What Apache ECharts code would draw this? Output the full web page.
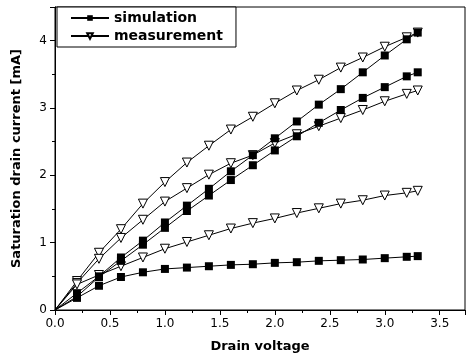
<!DOCTYPE html>
<html>
<head>
<meta charset="utf-8">
<script src="https://cdn.jsdelivr.net/npm/echarts@6/dist/echarts.min.js"></script>
<style>
  html, body { margin: 0; padding: 0; background: #fff; }
  #chart { width: 472px; height: 361px; }
</style>
</head>
<body>
<div id="chart"></div>
<script>
// drain voltage points
const voltage = [0, 0.2, 0.4, 0.6, 0.8, 1.0, 1.2, 1.4, 1.6, 1.8, 2.0, 2.2, 2.4, 2.6, 2.8, 3.0, 3.2, 3.3];

// simulation curves
const simHigh = [0, 0.25, 0.5, 0.78, 1.03, 1.3, 1.55, 1.8, 2.06, 2.3, 2.55, 2.8, 3.05, 3.28, 3.53, 3.78, 4.02, 4.12];
const simMid  = [0, 0.2, 0.49, 0.73, 0.97, 1.22, 1.47, 1.7, 1.93, 2.15, 2.37, 2.58, 2.78, 2.97, 3.15, 3.31, 3.47, 3.53];
const simLow  = [0, 0.18, 0.36, 0.49, 0.56, 0.61, 0.63, 0.65, 0.67, 0.68, 0.7, 0.71, 0.73, 0.74, 0.75, 0.77, 0.79, 0.8];

// measurement curves
const measHigh = [0, 0.43, 0.85, 1.2, 1.58, 1.9, 2.19, 2.44, 2.68, 2.87, 3.07, 3.26, 3.42, 3.6, 3.75, 3.91, 4.05, 4.12];
const measMid  = [0, 0.4, 0.76, 1.07, 1.34, 1.61, 1.81, 2.01, 2.18, 2.3, 2.48, 2.61, 2.73, 2.85, 2.97, 3.1, 3.21, 3.26];
const measLow  = [0, 0.38, 0.52, 0.65, 0.78, 0.91, 1.01, 1.11, 1.21, 1.29, 1.36, 1.44, 1.51, 1.58, 1.63, 1.7, 1.74, 1.77];

const font = 'DejaVu Sans';

// the origin point has no marker, only the line starts there
function pairs(ys) {
  return voltage.map((x, i) => i === 0 ? { value: [x, ys[i]], symbol: 'none' } : [x, ys[i]]);
}

function simSeries(ys) {
  return {
    name: 'simulation',
    type: 'line',
    data: pairs(ys),
    symbol: 'rect',
    symbolSize: 8,
    showAllSymbol: true,
    lineStyle: { color: '#000', width: 1 },
    itemStyle: { color: '#000', borderColor: '#000', borderWidth: 0 },
    z: 3
  };
}

function measSeries(ys) {
  return {
    name: 'measurement',
    type: 'line',
    data: pairs(ys),
    symbol: 'triangle',
    symbolRotate: 180,
    symbolSize: 9,
    showAllSymbol: true,
    lineStyle: { color: '#000', width: 1 },
    itemStyle: { color: '#fff', borderColor: '#000', borderWidth: 1 },
    z: 2
  };
}

const chart = echarts.init(document.getElementById('chart'));
chart.setOption({
  animation: false,
  backgroundColor: '#fff',
  grid: {
    left: 55, right: 7, top: 7, bottom: 51,
    show: true, borderColor: '#000', borderWidth: 1
  },
  legend: {
    data: ['simulation', 'measurement'],
    orient: 'vertical',
    left: 57, top: 7,
    padding: [4, 13, 4, 13],
    itemGap: 4,
    itemWidth: 38,
    itemHeight: 7,
    borderColor: '#000',
    borderWidth: 1,
    backgroundColor: '#fff',
    textStyle: { fontFamily: font, fontWeight: 'bold', fontSize: 14, color: '#000' }
  },
  xAxis: {
    type: 'value',
    min: 0, max: 3.73, interval: 0.5,
    name: 'Drain voltage',
    nameLocation: 'middle',
    nameGap: 30,
    nameTextStyle: { fontFamily: font, fontWeight: 'bold', fontSize: 13, color: '#000' },
    axisLine: { lineStyle: { color: '#000', width: 1 } },
    axisTick: { length: 5, lineStyle: { color: '#000' } },
    minorTick: { show: true, splitNumber: 2, length: 3, lineStyle: { color: '#000' } },
    axisLabel: {
      showMaxLabel: false,
      fontFamily: font, fontSize: 12, color: '#000', margin: 8,
      formatter: v => v.toFixed(1)
    },
    splitLine: { show: false }
  },
  yAxis: {
    type: 'value',
    min: 0, max: 4.5, interval: 1,
    name: 'Saturation drain current [mA]',
    nameLocation: 'middle',
    nameGap: 32,
    nameTextStyle: { fontFamily: font, fontWeight: 'bold', fontSize: 13, color: '#000' },
    axisLine: { lineStyle: { color: '#000', width: 1 } },
    axisTick: { length: 5, lineStyle: { color: '#000' } },
    minorTick: { show: true, splitNumber: 2, length: 3, lineStyle: { color: '#000' } },
    axisLabel: {
      showMaxLabel: false,
      fontFamily: font, fontSize: 12, color: '#000', margin: 8
    },
    splitLine: { show: false }
  },
  series: [
    measSeries(measHigh),
    measSeries(measMid),
    measSeries(measLow),
    simSeries(simHigh),
    simSeries(simMid),
    simSeries(simLow)
  ]
});
</script>
</body>
</html>
